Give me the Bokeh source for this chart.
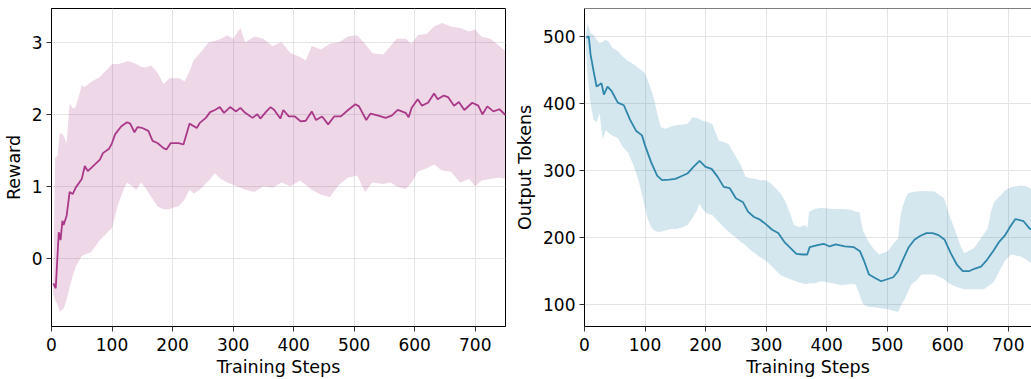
from bokeh.plotting import figure
from bokeh.models import Range1d, FixedTicker, Span
from bokeh.layouts import row
from bokeh.embed import file_html
from bokeh.resources import INLINE

# ---------------- data ----------------
x_ticks = [0, 100, 200, 300, 400, 500, 600, 700]
reward_ticks = [0, 1, 2, 3]
token_ticks = [100, 200, 300, 400, 500]

reward_steps = [3, 7, 12, 15, 18, 20, 25, 30, 35, 40, 50, 55, 60, 70, 80, 85, 95, 100, 105, 115,
                120, 125, 130, 137, 142, 150, 160, 167, 175, 185, 190, 197, 210, 218, 228, 240, 245, 255, 262, 270,
                278, 285, 295, 305, 312, 320, 332, 340, 345, 355, 362, 368, 378, 383, 392, 402, 412, 420, 430, 437,
                447, 457, 467, 478, 490, 502, 508, 520, 527, 540, 552, 562, 572, 585, 590, 595, 605, 612, 622, 632,
                638, 648, 655, 665, 673, 682, 695, 705, 712, 720, 730, 740, 750]
reward_mean = [-0.35, -0.42, 0.36, 0.25, 0.52, 0.46, 0.59, 0.92, 0.89, 0.98, 1.10, 1.28, 1.21, 1.29, 1.37, 1.46, 1.52, 1.60, 1.72, 1.83,
               1.86, 1.89, 1.87, 1.75, 1.82, 1.81, 1.77, 1.63, 1.60, 1.53, 1.51, 1.60, 1.60, 1.58, 1.87, 1.81, 1.88, 1.95, 2.03, 2.06,
               2.10, 2.02, 2.10, 2.04, 2.09, 2.02, 1.95, 2.00, 1.94, 2.04, 2.10, 2.06, 1.94, 2.06, 1.97, 1.97, 1.90, 1.91, 2.04, 1.92,
               1.97, 1.86, 1.97, 1.97, 2.06, 2.14, 2.11, 1.92, 2.01, 1.98, 1.95, 1.98, 2.06, 2.02, 1.96, 2.09, 2.21, 2.12, 2.16, 2.29,
               2.21, 2.26, 2.24, 2.12, 2.17, 2.06, 2.16, 2.12, 2.00, 2.11, 2.04, 2.07, 1.99]

reward_band_steps = [3, 6, 10, 14, 20, 25, 30, 35, 40, 50,
                     55, 65, 80, 95, 100, 110, 120, 125, 130, 140,
                     148, 155, 165, 175, 185, 195, 200, 210, 220, 228,
                     235, 245, 260, 270, 280, 290, 300, 312, 320, 335,
                     350, 365, 380, 395, 410, 420, 430, 445, 460, 475,
                     490, 505, 518, 530, 548, 560, 570, 585, 595, 605,
                     620, 632, 645, 660, 675, 690, 700, 710, 725, 740,
                     750]
reward_upper = [-0.30, 1.40, 1.42, 1.75, 1.70, 1.60, 2.15, 2.08, 2.10, 2.40,
                2.38, 2.45, 2.52, 2.65, 2.70, 2.70, 2.72, 2.74, 2.73, 2.70,
                2.66, 2.65, 2.68, 2.58, 2.42, 2.50, 2.50, 2.50, 2.46, 2.60,
                2.75, 2.85, 3.00, 3.02, 3.05, 3.10, 3.05, 3.20, 3.00, 3.08,
                3.05, 2.95, 3.00, 2.85, 2.80, 2.75, 2.95, 2.90, 2.98, 3.00,
                3.08, 3.10, 2.98, 2.85, 2.83, 2.95, 3.05, 3.05, 2.98, 3.10,
                3.12, 3.22, 3.27, 3.22, 3.20, 3.15, 3.18, 3.08, 3.05, 2.95,
                2.88]
reward_lower = [-0.50, -0.58, -0.65, -0.75, -0.70, -0.58, -0.40, -0.25, -0.12, 0.03,
                0.05, 0.08, 0.25, 0.38, 0.42, 0.75, 0.97, 1.05, 1.02, 0.95,
                1.05, 0.98, 0.85, 0.72, 0.68, 0.68, 0.70, 0.72, 0.82, 0.95,
                0.90, 0.95, 1.08, 1.18, 1.10, 1.05, 1.02, 0.98, 0.95, 0.92,
                1.00, 0.98, 1.05, 1.00, 1.08, 1.02, 0.95, 0.88, 0.85, 1.02,
                1.12, 1.15, 0.92, 1.05, 1.03, 1.05, 1.00, 0.96, 1.05, 1.20,
                1.25, 1.30, 1.22, 1.20, 1.05, 1.10, 1.00, 1.08, 1.10, 1.12,
                1.10]

token_steps = [3, 7, 10, 15, 20, 25, 28, 32, 38, 45, 55, 65, 75, 85, 95, 100, 110, 120, 128, 140,
               150, 160, 170, 180, 190, 200, 210, 220, 230, 240, 250, 262, 270, 280, 290, 300, 310, 320, 330, 340,
               350, 360, 368, 372, 385, 395, 405, 415, 430, 445, 455, 462, 470, 480, 490, 500, 510, 518, 525, 535,
               545, 555, 565, 575, 585, 595, 605, 615, 625, 635, 645, 655, 665, 675, 685, 695, 705, 712, 725, 735,
               745]
token_mean = [498, 500, 473, 448, 425, 428, 430, 413, 425, 418, 401, 397, 376, 359, 352, 337, 312, 292, 285, 286,
              287, 291, 295, 305, 314, 305, 302, 290, 275, 273, 258, 252, 238, 230, 226, 219, 211, 206, 193, 184,
              175, 174, 174, 185, 188, 190, 186, 189, 186, 185, 179, 164, 144, 139, 134, 137, 140, 149, 164, 184,
              196, 202, 206, 206, 203, 196, 176, 159, 149, 149, 153, 156, 166, 179, 193, 203, 218, 227, 224, 213,
              208]

token_band_steps = [2, 5, 10, 15, 20, 25, 30, 35, 40, 46,
                    55, 63, 72, 82, 90, 99, 104, 110, 115, 120,
                    126, 134, 142, 151, 160, 170, 178, 186, 190, 195,
                    203, 211, 222, 230, 238, 249, 258, 266, 275, 283,
                    290, 299, 308, 316, 324, 332, 340, 346, 355, 365,
                    368, 371, 380, 391, 410, 424, 440, 448, 454, 460,
                    468, 478, 487, 501, 510, 518, 523, 529, 534, 540,
                    548, 557, 578, 594, 602, 611, 620, 627, 636, 644,
                    660, 666, 672, 677, 688, 695, 705, 721, 730, 738,
                    745]
token_upper = [500, 520, 505, 502, 495, 490, 492, 495, 492, 483,
               478, 470, 463, 458, 452, 446, 436, 420, 406, 385,
               364, 362, 365, 367, 368, 369, 379, 378, 376, 374,
               372, 369, 344, 342, 339, 322, 308, 290, 288, 287,
               285, 285, 280, 273, 265, 253, 235, 218, 215, 218,
               213, 238, 242, 244, 242, 242, 241, 238, 238, 210,
               195, 182, 174, 179, 190, 198, 238, 255, 265, 267,
               268, 269, 268, 258, 235, 213, 190, 176, 180, 184,
               205, 213, 240, 253, 263, 270, 275, 277, 276, 272,
               270]
token_lower = [492, 440, 400, 375, 372, 385, 345, 360, 355, 352,
               348, 335, 326, 305, 282, 248, 228, 215, 210, 208,
               208, 210, 212, 212, 214, 218, 228, 240, 250, 242,
               235, 233, 222, 215, 208, 200, 193, 188, 180, 175,
               170, 165, 158, 150, 143, 140, 137, 135, 132, 130,
               130, 131, 131, 134, 131, 128, 130, 129, 115, 100,
               96, 95, 94, 92, 90, 88, 98, 107, 118, 129,
               135, 144, 144, 137, 131, 127, 124, 122, 122, 122,
               122, 126, 130, 134, 154, 165, 174, 171, 166, 161,
               158]

assert len(reward_steps) == len(reward_mean)
assert len(reward_band_steps) == len(reward_upper) == len(reward_lower)
assert len(token_steps) == len(token_mean)
assert len(token_band_steps) == len(token_upper) == len(token_lower)

PINK = "#AA3889"
BLUE = "#2E86AB"
FONT = "DejaVu Sans"
TICK_FS = "17px"
LABEL_FS = "17.5px"

X_END = 750
FIG_H = 379
MB_TOP, MB_BOTTOM = 8, 50


def padded(*arrs):
    lo = min(min(a) for a in arrs)
    hi = max(max(a) for a in arrs)
    pad = 0.05 * (hi - lo)
    return Range1d(lo - pad, hi + pad)


def style(p, yticks, ylabel):
    p.xaxis.ticker = FixedTicker(ticks=x_ticks)
    p.yaxis.ticker = FixedTicker(ticks=yticks)
    p.xaxis.axis_label = "Training Steps"
    p.yaxis.axis_label = ylabel
    for ax in (p.xaxis[0], p.yaxis[0]):
        ax.axis_label_text_font = FONT
        ax.axis_label_text_font_size = LABEL_FS
        ax.axis_label_text_font_style = "normal"
        ax.axis_label_text_color = "black"
        ax.major_label_text_font = FONT
        ax.major_label_text_font_size = TICK_FS
        ax.major_label_text_color = "black"
        ax.axis_line_color = "black"
        ax.axis_line_width = 1
        ax.major_tick_line_color = "#333333"
        ax.major_tick_in = 0
        ax.major_tick_out = 5
        ax.minor_tick_line_color = None
    p.xaxis.major_label_standoff = 6
    p.xaxis.axis_label_standoff = 3
    p.yaxis.major_label_standoff = 4
    p.yaxis.axis_label_standoff = 5
    p.xgrid.grid_line_color = "#e4e4e4"
    p.ygrid.grid_line_color = "#e4e4e4"
    p.xgrid.grid_line_width = 1
    p.ygrid.grid_line_width = 1
    p.background_fill_color = "white"
    p.border_fill_color = "white"


# ---------------- left: reward ----------------
L_W, L_MBL, L_MBR = 510, 51, 5
p1 = figure(width=L_W, height=FIG_H, output_backend="svg", toolbar_location=None,
            x_range=Range1d(0, X_END),
            y_range=padded(reward_upper, reward_lower, reward_mean),
            min_border_left=L_MBL, min_border_right=L_MBR,
            min_border_top=MB_TOP, min_border_bottom=MB_BOTTOM)
style(p1, reward_ticks, "Reward")
p1.outline_line_color = "black"
p1.outline_line_width = 1
p1.varea(x=reward_band_steps, y1=reward_lower, y2=reward_upper,
         fill_color=PINK, fill_alpha=0.2)
p1.line(reward_steps, reward_mean, line_color=PINK, line_width=1.8)

# ---------------- right: output tokens ----------------
R_W, R_MBL, R_MBR = 521, 74, 0
scale = (L_W - L_MBL - L_MBR) / X_END
r_end = (R_W - R_MBL - R_MBR) / scale
yr2 = padded(token_upper, token_lower, token_mean)
p2 = figure(width=R_W, height=FIG_H, output_backend="svg", toolbar_location=None,
            x_range=Range1d(0, r_end), y_range=yr2,
            min_border_left=R_MBL, min_border_right=R_MBR,
            min_border_top=MB_TOP, min_border_bottom=MB_BOTTOM)
style(p2, token_ticks, "Output Tokens")
p2.outline_line_color = None
p2.varea(x=token_band_steps, y1=token_lower, y2=token_upper,
         fill_color=BLUE, fill_alpha=0.2)
p2.line(token_steps, token_mean, line_color=BLUE, line_width=1.8)
p2.add_layout(Span(location=yr2.end, dimension="width", line_color="black", line_width=1))

layout = row(p1, p2, spacing=0)
open("out.html", "w").write(file_html(layout, INLINE))
